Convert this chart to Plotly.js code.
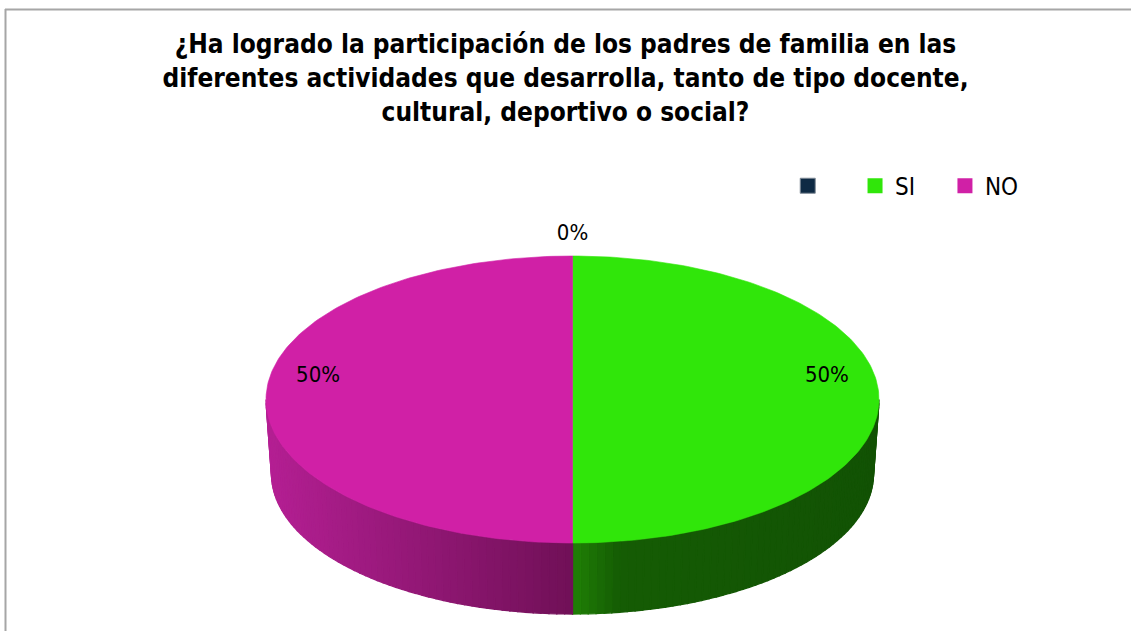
<!DOCTYPE html>
<html><head><meta charset="utf-8">
<script src="https://cdn.plot.ly/plotly-3.0.1.min.js"></script>
<style>html,body{margin:0;padding:0;background:#fff;}#chart{width:1131px;height:631px;}</style>
</head><body><div id="chart"></div>
<script>
// ---- data ----
const categories = ['', 'SI', 'NO'];
const values = [0, 50, 50];
const titleText = '¿Ha logrado la participación de los padres de familia en las<br>diferentes actividades que desarrolla, tanto de tipo docente,<br>cultural, deportivo o social?';

// ---- style ----
const topColors = ['#0E2A44', '#30E60A', '#D020A6'];
const sideStops = [
  [[0, '#0A1F33'], [1, '#06121F']],
  [[0, '#208006'], [0.15, '#155C04'], [1, '#125204']],
  [[0, '#B41F93'], [1, '#701057']]
];
const FONT = "'Liberation Sans Narrow', 'DejaVu Sans Condensed', 'Liberation Sans', sans-serif";
// geometry of the tilted pie (pixel units of the hidden axes)
const CX = 572.5, CY = 399.5, RX = 306.5, RY = 143.5;
const BCX = 572.5, BCY = 474, BRX = 301, BRY = 140;
// legend positions (paper fraction) for each entry
const legendX = [0.6965, 0.756, 0.8355];

function hex2rgb(h) { return [1, 3, 5].map(i => parseInt(h.substr(i, 2), 16)); }
function colorAt(stops, t) {
  t = Math.max(0, Math.min(1, t));
  for (let i = 0; i < stops.length - 1; i++) {
    const [t0, c0] = stops[i], [t1, c1] = stops[i + 1];
    if (t <= t1) {
      const f = (t1 - t0) ? (t - t0) / (t1 - t0) : 0;
      const a = hex2rgb(c0), b = hex2rgb(c1);
      return 'rgb(' + a.map((v, k) => Math.round(v + (b[k] - v) * f)).join(',') + ')';
    }
  }
  return stops[stops.length - 1][1];
}
const rad = d => d * Math.PI / 180;
function topPt(a) { return [CX + RX * Math.sin(rad(a)), CY - RY * Math.cos(rad(a))]; }
function botPt(a) { return [BCX + BRX * Math.sin(rad(a)), BCY - BRY * Math.cos(rad(a))]; }

const total = values.reduce((s, v) => s + v, 0);
const starts = [], ends = [];
let cum = 0;
values.forEach(v => { starts.push(cum / total * 360); cum += v; ends.push(cum / total * 360); });

const traces = [];
// side walls (front half only), drawn as thin shaded strips
values.forEach((v, i) => {
  const s = Math.max(starts[i], 90), e = Math.min(ends[i], 270);
  if (e <= s) return;
  const n = Math.max(1, Math.ceil((e - s) / 1.5));
  const xs0 = [s, e, ...(s < 180 && e > 180 ? [180] : [])].map(a => topPt(a)[0]);
  const xmin = Math.min(...xs0), xmax = Math.max(...xs0);
  for (let k = 0; k < n; k++) {
    const a0 = s + (e - s) * k / n, a1 = s + (e - s) * (k + 1) / n;
    const p0 = topPt(a0), p1 = topPt(a1), q1 = botPt(a1), q0 = botPt(a0);
    const xm = (p0[0] + p1[0]) / 2;
    const c = colorAt(sideStops[i], (xm - xmin) / (xmax - xmin));
    traces.push({
      type: 'scatter', mode: 'lines', fill: 'toself', fillcolor: c,
      x: [p0[0], p1[0], q1[0], q0[0], p0[0]], y: [p0[1], p1[1], q1[1], q0[1], p0[1]],
      line: { color: c, width: 1.3 }, hoverinfo: 'skip', showlegend: false
    });
  }
});
// top faces
values.forEach((v, i) => {
  if (v <= 0) return;
  const xs = [CX], ys = [CY];
  const n = Math.max(2, Math.ceil(ends[i] - starts[i]));
  for (let k = 0; k <= n; k++) {
    const p = topPt(starts[i] + (ends[i] - starts[i]) * k / n);
    xs.push(p[0]); ys.push(p[1]);
  }
  xs.push(CX); ys.push(CY);
  traces.push({
    type: 'scatter', mode: 'lines', fill: 'toself', fillcolor: topColors[i],
    x: xs, y: ys, line: { color: topColors[i], width: 0.6 },
    name: categories[i], hoverinfo: 'skip', showlegend: false
  });
});
// percentage labels
const lx = [], ly = [], lt = [];
values.forEach((v, i) => {
  const m = (starts[i] + ends[i]) / 2;
  if (v === 0) {
    lx.push(CX + RX * Math.sin(rad(m))); ly.push(CY - RY * 1.15 * Math.cos(rad(m)));
  } else {
    lx.push(CX + 0.83 * RX * Math.sin(rad(m))); ly.push(CY - 0.83 * RY * Math.cos(rad(m)) - 23);
  }
  lt.push(Math.round(v / total * 100) + '%');
});
traces.push({
  type: 'scatter', mode: 'text', x: lx, y: ly, text: lt, textposition: 'middle center',
  textfont: { family: FONT, size: 22, color: '#000' }, hoverinfo: 'skip', showlegend: false
});
// legend entries (one small legend per entry so each can sit where the reference has it)
const legendNames = ['legend', 'legend2', 'legend3'];
categories.forEach((c, i) => {
  traces.push({
    type: 'scatter', mode: 'markers', x: [null], y: [null], name: c, legend: legendNames[i],
    marker: { symbol: 'square', size: 15, color: topColors[i], line: { color: i === 0 ? '#7f8a96' : topColors[i], width: i === 0 ? 1 : 0 } },
    hoverinfo: 'skip', showlegend: true
  });
});
function legendBox(x) {
  return {
    orientation: 'h', x: x, xanchor: 'left', y: 0.705, yanchor: 'middle',
    font: { family: FONT, size: 24, color: '#000' }, bgcolor: 'rgba(0,0,0,0)',
    itemclick: false, itemdoubleclick: false
  };
}

const layout = {
  width: 1131, height: 631,
  margin: { l: 0, r: 0, t: 0, b: 0 },
  paper_bgcolor: '#fff', plot_bgcolor: '#fff',
  title: {
    text: '<b>' + titleText + '</b>',
    font: { family: FONT, size: 26, color: '#000' },
    x: 0.5, xanchor: 'center', xref: 'paper',
    y: 0.916, yanchor: 'middle', yref: 'container'
  },
  xaxis: { range: [0, 1131], visible: false, fixedrange: true },
  yaxis: { range: [631, 0], visible: false, fixedrange: true },
  showlegend: true,
  legend: legendBox(legendX[0]),
  legend2: legendBox(legendX[1]),
  legend3: legendBox(legendX[2]),
  shapes: [
    { type: 'line', xref: 'x', yref: 'y', x0: 5, x1: 1131, y0: 9.5, y1: 9.5, line: { color: '#A6A6A6', width: 2 } },
    { type: 'line', xref: 'x', yref: 'y', x0: 5.5, x1: 5.5, y0: 9, y1: 631, line: { color: '#A6A6A6', width: 2 } }
  ]
};
Plotly.newPlot('chart', traces, layout, { displayModeBar: false, staticPlot: true });
</script>
</body></html>
